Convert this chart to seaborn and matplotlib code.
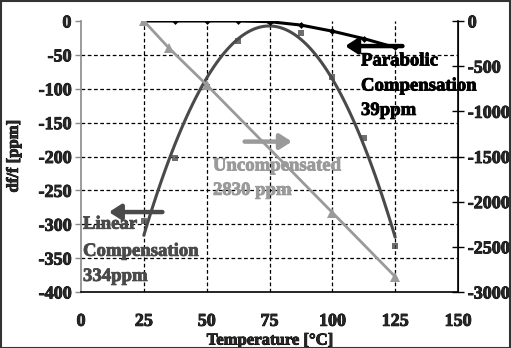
import numpy as np
import pandas as pd
import matplotlib
matplotlib.use("Agg")
import matplotlib.pyplot as plt
import seaborn as sns
from matplotlib.patches import Rectangle
from matplotlib.font_manager import FontProperties
import matplotlib.patheffects as pe

# ---- data ----
temp_par = [25, 37.5, 50, 62.5, 75, 87.5, 100, 112.5, 125]
parabolic = [0, 0, 0, 0, -1, -6, -15, -26, -39]

temp_lin = [25, 37.5, 50, 62.5, 75, 87.5, 100, 112.5, 125]
linear_comp = [-295, -202, -97, -30, 0, -18, -83, -173, -332]

temp_unc = [25, 35, 50, 100, 125]
uncompensated = [0, -300, -707, -2120, -2830]

x_ticks = [0, 25, 50, 75, 100, 125, 150]
left_ticks = [0, -50, -100, -150, -200, -250, -300, -350, -400]
right_ticks = [0, -500, -1000, -1500, -2000, -2500, -3000]

# ---- style ----
sns.set_style("white")
plt.rcParams['font.family'] = ['Liberation Serif', 'DejaVu Serif']
plt.rcParams['font.weight'] = 'bold'
plt.rcParams['axes.unicode_minus'] = False

C_PAR = "#000000"
C_LIN = "#4a4a4a"
C_UNC = "#9a9a9a"

def heavy(color):
    return [pe.withStroke(linewidth=0.6, foreground=color)]

fig = plt.figure(figsize=(5.11, 3.48), dpi=100)
ax = fig.add_axes([81/511, 1-292/348, (458-81)/511, (292-21)/348])
ax2 = ax.twinx()

# grid
for xv in x_ticks[1:-1]:
    ax.axvline(xv, color="black", lw=0.9, ls=(0, (3, 2)), zorder=0)
for yv in left_ticks[1:-1]:
    ax.axhline(yv, color="black", lw=0.9, ls=(0, (3, 2)), zorder=0)

# Linear compensation: squares + quadratic trend
sns.regplot(x=temp_lin, y=linear_comp, order=2, ci=None, ax=ax, marker="s",
            color=C_LIN, scatter_kws=dict(s=22, linewidths=0, zorder=3),
            line_kws=dict(lw=2.2, zorder=3), truncate=True)

# Parabolic compensation
sns.lineplot(x=temp_par, y=parabolic, ax=ax, color=C_PAR, lw=2.2, marker="D",
             markersize=3.5, markeredgewidth=0, zorder=4)

# Uncompensated on right axis
sns.lineplot(x=temp_unc, y=uncompensated, ax=ax2, color=C_UNC, lw=2.0, marker="^",
             markersize=7, markeredgewidth=0, zorder=2)

ax.set_xlim(0, 150)
ax.set_ylim(-400, 0)
ax2.set_ylim(-3000, 0)
ax.set_xticks(x_ticks)
ax.set_yticks(left_ticks)
ax2.set_yticks(right_ticks)
tick_fp = FontProperties(family="Liberation Serif", weight="bold", size=13)
ax.set_xticklabels([str(v) for v in x_ticks], fontproperties=tick_fp)
ax.set_yticklabels([str(v) for v in left_ticks], fontproperties=tick_fp)
ax2.set_yticklabels([str(v) for v in right_ticks], fontproperties=tick_fp)
for lbl in ax.get_xticklabels() + ax.get_yticklabels() + ax2.get_yticklabels():
    lbl.set_path_effects(heavy("black"))

lab_fp = FontProperties(family="Liberation Serif", weight="bold", size=12)
ax.set_xlabel("Temperature [°C]", fontproperties=lab_fp, labelpad=2,
              path_effects=heavy("black"))
ax.set_ylabel("df/f [ppm]", fontproperties=lab_fp, labelpad=12,
              path_effects=heavy("black"))

for a in (ax, ax2):
    a.spines["top"].set_visible(False)
    a.set_facecolor("none")
ax.spines["left"].set_color("#8a8a8a")
ax.spines["left"].set_linewidth(1.2)
ax.spines["bottom"].set_color("black")
ax.spines["bottom"].set_linewidth(1.2)
ax2.spines["right"].set_color("black")
ax2.spines["right"].set_linewidth(1.2)
ax2.spines["left"].set_visible(False)
ax2.spines["bottom"].set_visible(False)

ax.tick_params(axis="y", direction="out", length=4, width=1, color="#8a8a8a", pad=3)
ax.tick_params(axis="x", direction="out", length=5, width=1, color="black", pad=10)
ax2.tick_params(axis="y", direction="inout", length=8, width=1, color="black", pad=3)

# arrows
ax.annotate("", xy=(104, -37), xytext=(129, -37),
            arrowprops=dict(arrowstyle="-|>,head_length=0.7,head_width=0.45",
                            color=C_PAR, lw=3.2), zorder=5)
ax.annotate("", xy=(85, -178), xytext=(64, -178),
            arrowprops=dict(arrowstyle="-|>,head_length=0.7,head_width=0.45",
                            color=C_UNC, lw=3.2), zorder=5)
ax.annotate("", xy=(10, -282), xytext=(33.5, -282),
            arrowprops=dict(arrowstyle="-|>,head_length=0.7,head_width=0.45",
                            color=C_LIN, lw=3.2), zorder=5)

# annotation texts (one line each)
ann_fp = FontProperties(family="Liberation Serif", weight="bold", size=13.5)
def label(x, y, s, color):
    ax.text(x, y, s, fontproperties=ann_fp, color=color,
            va="center", ha="left", zorder=6, path_effects=heavy(color))

label(111.4, -59, "Parabolic", "black")
label(111.4, -96, "Compensation", "black")
label(111.4, -132, "39ppm", "black")
label(52.5, -214, "Uncompensated", C_UNC)
label(52.5, -250, "2830 ppm", C_UNC)
label(0.8, -300, "Linear", C_LIN)
label(0.8, -340, "Compensation", C_LIN)
label(0.8, -377, "334ppm", C_LIN)

# figure border
fig.patches.append(Rectangle((0.001, 0.001), 0.997, 0.996, transform=fig.transFigure,
                             fill=False, edgecolor="#333333", lw=1.5))

fig.savefig("out.png", dpi=100)
